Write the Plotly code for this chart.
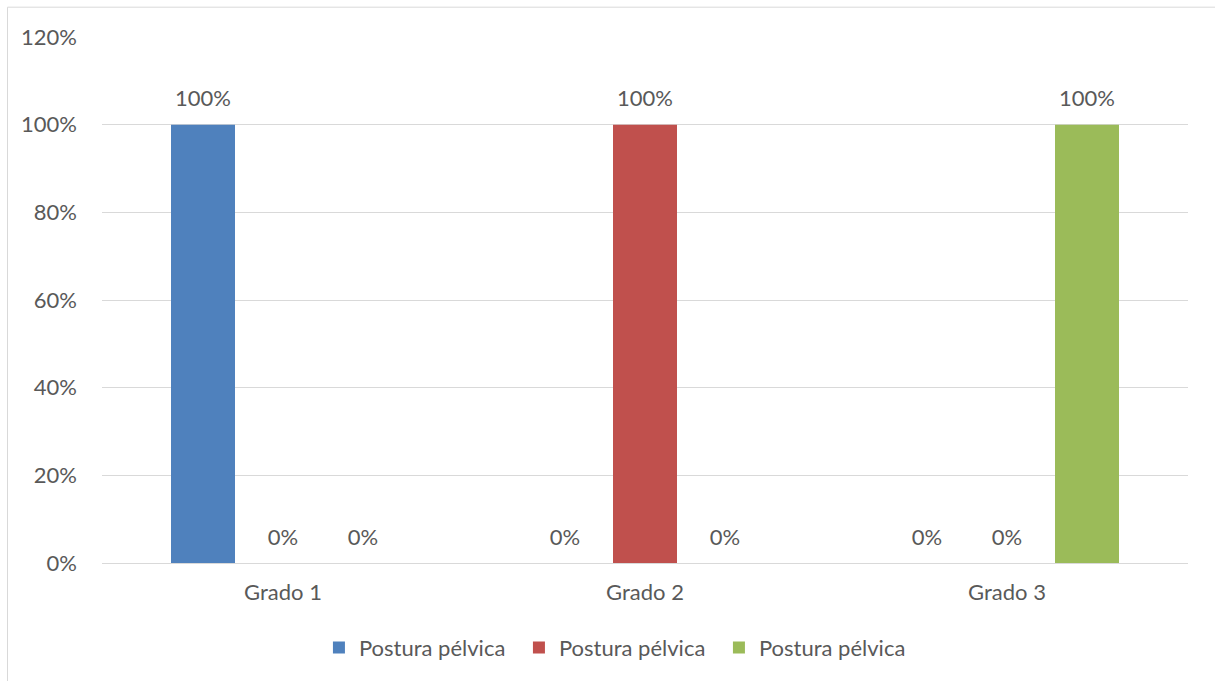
import plotly.graph_objects as go

categories = ["Grado 1", "Grado 2", "Grado 3"]
series_names = ["Postura pélvica", "Postura pélvica", "Postura pélvica"]
series_values = [
    [1.00, 0.00, 0.00],
    [0.00, 1.00, 0.00],
    [0.00, 0.00, 1.00],
]
series_colors = ["#4F81BD", "#C0504D", "#9BBB59"]
y_ticks = [0, 0.2, 0.4, 0.6, 0.8, 1.0, 1.2]
y_tick_labels = ["0%", "20%", "40%", "60%", "80%", "100%", "120%"]

FONT = "Lato"
TXT = "#595959"
FS = 22
GAP = 0.337

fig = go.Figure()
for i, (name, vals, col) in enumerate(zip(series_names, series_values, series_colors)):
    fig.add_trace(go.Bar(
        x=categories, y=vals, name=name, offsetgroup=str(i),
        marker=dict(color=col, line=dict(width=0)),
        hoverinfo="skip",
    ))
for i, vals in enumerate(series_values):
    fig.add_trace(go.Scatter(
        x=categories, y=vals, offsetgroup=str(i), mode="markers+text",
        marker=dict(size=19, opacity=0),
        text=[f"{v*100:.0f}%" for v in vals],
        textposition="top center",
        textfont=dict(family=FONT, size=FS, color=TXT),
        showlegend=False, hoverinfo="skip", cliponaxis=False,
    ))

fig.update_layout(
    width=1215, height=681,
    margin=dict(l=102, r=27, t=37, b=115),
    paper_bgcolor="white", plot_bgcolor="white",
    barmode="group", bargap=GAP, bargroupgap=0.2,
    scattermode="group", scattergap=GAP,
    font=dict(family=FONT, size=FS, color=TXT),
    showlegend=True,
    legend=dict(orientation="h", x=0.476, xanchor="center", y=-0.161, yanchor="middle",
                font=dict(family=FONT, size=FS, color=TXT), itemwidth=30,
                entrywidth=155, entrywidthmode="pixels",
                traceorder="normal"),
    xaxis=dict(showgrid=False, showline=True, linecolor="#D9D9D9", linewidth=1,
               ticks="", ticklabelstandoff=10, tickfont=dict(family=FONT, size=FS, color=TXT)),
    yaxis=dict(range=[0, 1.2], tickvals=y_ticks, ticktext=y_tick_labels,
               showgrid=True, gridcolor="#D9D9D9", gridwidth=1, zeroline=False,
               showline=False, ticks="", ticklabelstandoff=24,
               tickfont=dict(family=FONT, size=FS, color=TXT)),
    shapes=[dict(type="rect", xref="paper", yref="paper",
                 x0=-0.087, x1=1.05, y0=-0.25, y1=1.0567,
                 line=dict(color="#D9D9D9", width=1), fillcolor="rgba(0,0,0,0)", layer="below")],
)

fig.write_html("out.html", config={"displayModeBar": False},
               post_script="document.body.style.margin='0px';")
